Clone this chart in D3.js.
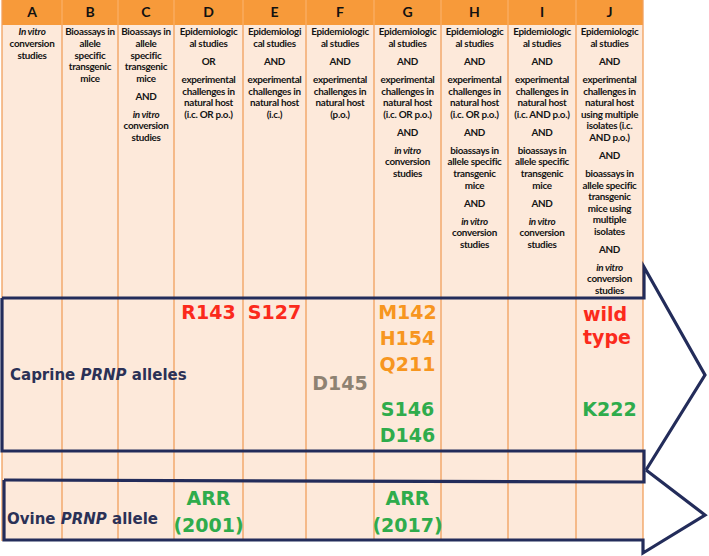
<!DOCTYPE html>
<html lang="en">
<head>
    <meta charset='utf-8'>
    <title>PRNP alleles evidence table</title>
    <style>
        body{ margin: 0; background: #fff; }
        text { font-family: Lato, "Open Sans", sans-serif; }
        .crit { font-size: 9.9px; font-weight: 700; fill: #141414; text-anchor: middle; letter-spacing: -0.3px; }
        .hdr { font-size: 14px; font-weight: 700; fill: #111; text-anchor: middle; }
        .allele { font-family: "DejaVu Sans", Verdana, sans-serif; font-weight: 700; font-size: 19px; }
        .species { font-family: "DejaVu Sans", Verdana, sans-serif; font-weight: 700; font-size: 15px; fill: #2b3156; }
    </style>
</head>
<body>
<div id="chart"></div>
<script src="https://cdn.jsdelivr.net/npm/d3@7"></script>
<script>
    // ---- data ----
    var columns = ["A", "B", "C", "D", "E", "F", "G", "H", "I", "J"];

    // criteria text per column: paragraphs of lines, "_" marks italic lines
    var criteria = [
        [["_In vitro", "conversion", "studies"]],
        [["Bioassays in", "allele", "specific", "transgenic", "mice"]],
        [["Bioassays in", "allele", "specific", "transgenic", "mice"], ["AND"], ["_in vitro", "conversion", "studies"]],
        [["Epidemiologic", "al studies"], ["OR"], ["experimental", "challenges in", "natural host", "(i.c. OR p.o.)"]],
        [["Epidemiologi", "cal studies"], ["AND"], ["experimental", "challenges in", "natural host", "(i.c.)"]],
        [["Epidemiologic", "al studies"], ["AND"], ["experimental", "challenges in", "natural host", "(p.o.)"]],
        [["Epidemiologic", "al studies"], ["AND"], ["experimental", "challenges in", "natural host", "(i.c. OR p.o.)"],
            ["AND"], ["_in vitro", "conversion", "studies"]],
        [["Epidemiologic", "al studies"], ["AND"], ["experimental", "challenges in", "natural host", "(i.c. OR p.o.)"],
            ["AND"], ["bioassays in", "allele specific", "transgenic", "mice"], ["AND"], ["_in vitro", "conversion", "studies"]],
        [["Epidemiologic", "al studies"], ["AND"], ["experimental", "challenges in", "natural host", "(i.c. AND p.o.)"],
            ["AND"], ["bioassays in", "allele specific", "transgenic", "mice"], ["AND"], ["_in vitro", "conversion", "studies"]],
        [["Epidemiologic", "al studies"], ["AND"], ["experimental", "challenges in", "natural host", "using multiple", "isolates (i.c.", "AND p.o.)"],
            ["AND"], ["bioassays in", "allele specific", "transgenic", "mice using", "multiple", "isolates"], ["AND"], ["_in vitro", "conversion", "studies"]]
    ];

    // caprine alleles: column, label, colour group, line slot
    var caprineCols   = ["D", "E", "G", "G", "G", "F", "G", "G", "J", "J", "J"];
    var caprineLabels = ["R143", "S127", "M142", "H154", "Q211", "D145", "S146", "D146", "wild", "type", "K222"];
    var caprineGroups = ["red", "red", "orange", "orange", "orange", "grey", "green", "green", "red", "red", "green"];
    var caprineSlots  = [0, 0, 0, 1, 2, 2.75, 3.75, 4.75, 0.1, 0.95, 3.75];

    var ovineCols   = ["D", "D", "G", "G"];
    var ovineLabels = ["ARR", "(2001)", "ARR", "(2017)"];
    var ovineSlots  = [0, 1, 0, 1];

    var groupColors = {red: "#fb2a1c", orange: "#f7961f", grey: "#8e8272", green: "#2fac4c"};

    // ---- layout ----
    var width = 709, height = 556;
    var colEdges = [2, 62, 118, 174, 243, 306, 374, 441, 508, 576, 643];
    var headerH = 25, capTop = 298, capBot = 451, ovTop = 480, tableBot = 540;
    var navy = "#232c5a";

    var svg = d3.select("#chart").append("svg")
        .attr("width", width).attr("height", height);

    var colX = d3.scaleOrdinal().domain(columns).range(colEdges.slice(0, -1));
    function colW(c) { var i = columns.indexOf(c); return colEdges[i + 1] - colEdges[i]; }
    function colMid(c) { return colX(c) + colW(c) / 2; }

    // background + header
    svg.append("rect").attr("x", colEdges[0]).attr("y", 0)
        .attr("width", colEdges[10] - colEdges[0]).attr("height", tableBot - 0)
        .attr("fill", "#fde9da");
    svg.append("rect").attr("x", colEdges[0]).attr("y", 0)
        .attr("width", colEdges[10] - colEdges[0]).attr("height", headerH)
        .attr("fill", "#f79a3a");

    // column lines
    svg.selectAll("line.col").data(colEdges).enter().append("line")
        .attr("class", "col")
        .attr("x1", function(d) { return d; }).attr("x2", function(d) { return d; })
        .attr("y1", function(d, i) { return (i === 0 || i === 10) ? 0 : headerH; })
        .attr("y2", tableBot + 1)
        .attr("stroke", "#f2a05c").attr("stroke-width", 1.3);
    svg.selectAll("line.hcol").data(colEdges.slice(1, -1)).enter().append("line")
        .attr("class", "hcol")
        .attr("x1", function(d) { return d; }).attr("x2", function(d) { return d; })
        .attr("y1", 0).attr("y2", headerH)
        .attr("stroke", "#fbb470").attr("stroke-width", 1);

    svg.selectAll("text.hdr").data(columns).enter().append("text")
        .attr("class", "hdr")
        .attr("x", function(d) { return colMid(d); })
        .attr("y", 17)
        .text(function(d) { return d; });

    // criteria text
    var lineH = 11.55, paraGap = 6.5, firstLine = 32;
    columns.forEach(function(c, i) {
        var y = firstLine;
        var g = svg.append("g");
        criteria[i].forEach(function(para, pi) {
            if (pi > 0) y += paraGap;
            para.forEach(function(line) {
                var it = line.charAt(0) === "_";
                g.append("text").attr("class", "crit")
                    .attr("x", colMid(c)).attr("y", y).attr("dy", "0.35em")
                    .style("font-style", it ? "italic" : "normal")
                    .text(it ? line.slice(1) : line);
                y += lineH;
            });
        });
    });

    // allele values (codes centred, plain words set from the cell's left side)
    function isWord(d) { return !/\d/.test(d); }
    var capY = d3.scaleLinear().domain([0, 5]).range([312, 442]);
    svg.selectAll("text.cap").data(caprineLabels).enter().append("text")
        .attr("class", "allele cap")
        .attr("text-anchor", function(d) { return isWord(d) ? "start" : "middle"; })
        .attr("x", function(d, i) { return isWord(d) ? colX(caprineCols[i]) + 7 : colMid(caprineCols[i]); })
        .attr("y", function(d, i) { return capY(caprineSlots[i]); })
        .attr("dy", "0.36em")
        .attr("fill", function(d, i) { return groupColors[caprineGroups[i]]; })
        .text(function(d) { return d; });

    var ovY = d3.scaleLinear().domain([0, 1]).range([498, 525]);
    svg.selectAll("text.ov").data(ovineLabels).enter().append("text")
        .attr("class", "allele ov")
        .attr("text-anchor", "middle")
        .attr("x", function(d, i) { return colMid(ovineCols[i]); })
        .attr("y", function(d, i) { return ovY(ovineSlots[i]); })
        .attr("dy", "0.36em")
        .attr("fill", groupColors.green)
        .text(function(d) { return d; });

    // species labels
    function speciesLabel(x, y, a, b, c) {
        var t = svg.append("text").attr("class", "species").attr("x", x).attr("y", y).attr("dy", "0.36em");
        t.append("tspan").text(a + " ");
        t.append("tspan").style("font-style", "italic").text(b);
        t.append("tspan").text(" " + c);
    }
    speciesLabel(10, 375, "Caprine", "PRNP", "alleles");
    speciesLabel(7, 519, "Ovine", "PRNP", "allele");

    // boxes and arrows
    var right = colEdges[10] + 1;
    var outline = [
        [[2, capTop], [right, capTop], [right, 267], [705, 375], [646, 470]],
        [[2, capTop], [2, capBot], [right, capBot], [right, ovTop + 2], [4, ovTop]],
        [[4, ovTop], [4, tableBot], [right - 1, tableBot], [right - 1, 553], [705, 515], [646, 470]]
    ];
    svg.selectAll("path.box").data(outline).enter().append("path")
        .attr("class", "box")
        .attr("d", d3.line())
        .attr("fill", "none")
        .attr("stroke", navy).attr("stroke-width", 3.2)
        .attr("stroke-linejoin", "miter");
</script>
</body>
</html>
